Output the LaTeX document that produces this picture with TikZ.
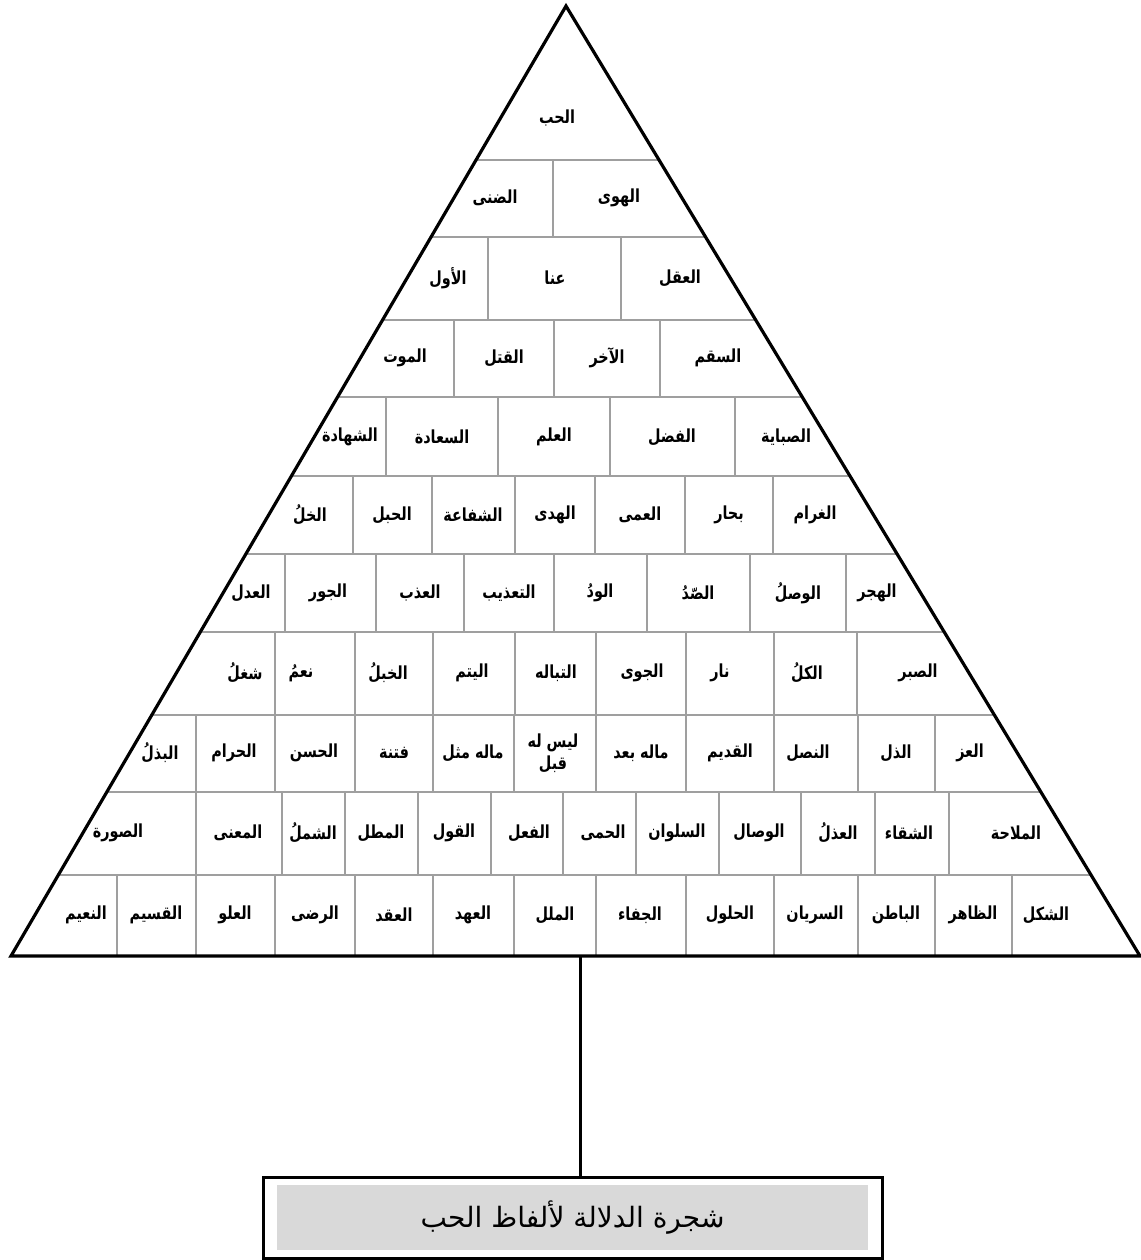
\documentclass[tikz,border=0pt]{standalone}
\usepackage{fontspec}
\usepackage{xcolor}
\usepackage{tikz}
\newfontfamily\arabicfont[Script=Arabic, FakeStretch=0.8]{DejaVu Sans}
\newfontfamily\titlefont[Script=Arabic]{DejaVu Sans}
\TeXXeTstate=1
\newcommand{\kalima}[1]{\beginR #1\endR}

\begin{document}
\begin{tikzpicture}[x=0.5pt,y=-0.5pt,
        word/.style={font=\arabicfont\bfseries\fontsize{9}{11}\selectfont, inner sep=1pt},
        cell/.style={draw=gray!75, line width=0.8pt},
        edge/.style={draw=black, line width=1.6pt, line join=miter},
        stem/.style={draw=black, line width=1.5pt},
        frame/.style={draw=black, line width=1.5pt, minimum width=309.5pt, minimum height=40.5pt, inner sep=0pt},
        band/.style={fill=gray!30, minimum width=295.5pt, minimum height=32.5pt, inner sep=0pt, font=\titlefont\fontsize{14}{16}\selectfont}]
        \useasboundingbox (0,0) rectangle (1141,1260);
        \coordinate (apex) at (566,6);
        \coordinate (bl) at (11,956);
        \coordinate (br) at (1140,956);
        \begin{scope}
        \clip (apex) -- (bl) -- (br) -- cycle;
        \draw[cell] (0,160) -- (1141,160) (0,237) -- (1141,237) (0,320) -- (1141,320) (0,397) -- (1141,397) (0,476) -- (1141,476)
                (0,554) -- (1141,554) (0,632) -- (1141,632) (0,715) -- (1141,715) (0,792) -- (1141,792) (0,875) -- (1141,875);
        \draw[cell] (553,160) -- (553,237);
        \draw[cell] (488,237) -- (488,320) (621,237) -- (621,320);
        \draw[cell] (454,320) -- (454,397) (554,320) -- (554,397) (660,320) -- (660,397);
        \draw[cell] (386,397) -- (386,476) (498,397) -- (498,476) (610,397) -- (610,476) (735,397) -- (735,476);
        \draw[cell] (353,476) -- (353,554) (432,476) -- (432,554) (515,476) -- (515,554) (595,476) -- (595,554) (685,476) -- (685,554) (773,476) -- (773,554);
        \draw[cell] (285,554) -- (285,632) (376,554) -- (376,632) (464,554) -- (464,632) (554,554) -- (554,632) (647,554) -- (647,632) (750,554) -- (750,632) (846,554) -- (846,632);
        \draw[cell] (275,632) -- (275,715) (355,632) -- (355,715) (433,632) -- (433,715) (515,632) -- (515,715) (596,632) -- (596,715) (686,632) -- (686,715) (774,632) -- (774,715) (857,632) -- (857,715);
        \draw[cell] (196,715) -- (196,792) (275,715) -- (275,792) (355,715) -- (355,792) (433,715) -- (433,792) (514,715) -- (514,792) (596,715) -- (596,792) (686,715) -- (686,792) (774,715) -- (774,792) (858,715) -- (858,792) (935,715) -- (935,792);
        \draw[cell] (196,792) -- (196,875) (282,792) -- (282,875) (345,792) -- (345,875) (418,792) -- (418,875) (491,792) -- (491,875) (563,792) -- (563,875) (636,792) -- (636,875) (719,792) -- (719,875) (801,792) -- (801,875) (875,792) -- (875,875) (949,792) -- (949,875);
        \draw[cell] (117,875) -- (117,956) (196,875) -- (196,956) (275,875) -- (275,956) (355,875) -- (355,956) (433,875) -- (433,956) (514,875) -- (514,956) (596,875) -- (596,956) (686,875) -- (686,956) (774,875) -- (774,956) (858,875) -- (858,956) (935,875) -- (935,956) (1012,875) -- (1012,956);
        \end{scope}
        \draw[edge] (apex) -- (bl) -- (br) -- cycle;

        \node[word] (w1) at (557,118) {\kalima{الحب}};

        \node[word] (w2a) at (495,198) {\kalima{الضنى}};
        \node[word] (w2b) at (619,198) {\kalima{الهوى}};

        \node[word] (w3a) at (448,278) {\kalima{الأول}};
        \node[word] (w3b) at (555,278) {\kalima{عنا}};
        \node[word] (w3c) at (680,278) {\kalima{العقل}};

        \node[word] (w4a) at (405,358) {\kalima{الموت}};
        \node[word] (w4b) at (504,358) {\kalima{القتل}};
        \node[word] (w4c) at (607,358) {\kalima{الآخر}};
        \node[word] (w4d) at (718,358) {\kalima{السقم}};

        \node[word] (w5a) at (350,437) {\kalima{الشهادة}};
        \node[word] (w5b) at (442,437) {\kalima{السعادة}};
        \node[word] (w5c) at (554,437) {\kalima{العلم}};
        \node[word] (w5d) at (672,437) {\kalima{الفضل}};
        \node[word] (w5e) at (786,437) {\kalima{الصباية}};

        \node[word] (w6a) at (310,515) {\kalima{الخلُ}};
        \node[word] (w6b) at (392,515) {\kalima{الحبل}};
        \node[word] (w6c) at (473,515) {\kalima{الشفاعة}};
        \node[word] (w6d) at (555,515) {\kalima{الهدى}};
        \node[word] (w6e) at (640,515) {\kalima{العمى}};
        \node[word] (w6f) at (729,515) {\kalima{بحار}};
        \node[word] (w6g) at (815,515) {\kalima{الغرام}};

        \node[word] (w7a) at (251,593) {\kalima{العدل}};
        \node[word] (w7b) at (328,593) {\kalima{الجور}};
        \node[word] (w7c) at (420,593) {\kalima{العذب}};
        \node[word] (w7d) at (509,593) {\kalima{التعذيب}};
        \node[word] (w7e) at (600,593) {\kalima{الودُ}};
        \node[word] (w7f) at (698,593) {\kalima{الصّدُ}};
        \node[word] (w7g) at (798,593) {\kalima{الوصلُ}};
        \node[word] (w7h) at (877,593) {\kalima{الهجر}};

        \node[word] (w8a) at (245,673) {\kalima{شغلُ}};
        \node[word] (w8b) at (301,673) {\kalima{نعمُ}};
        \node[word] (w8c) at (388,673) {\kalima{الخبلُ}};
        \node[word] (w8d) at (472,673) {\kalima{اليتم}};
        \node[word] (w8e) at (556,673) {\kalima{التباله}};
        \node[word] (w8f) at (642,673) {\kalima{الجوى}};
        \node[word] (w8g) at (720,673) {\kalima{نار}};
        \node[word] (w8h) at (807,673) {\kalima{الكلُ}};
        \node[word] (w8i) at (918,673) {\kalima{الصبر}};

        \node[word] (w9a) at (160,753) {\kalima{البذلُ}};
        \node[word] (w9b) at (234,753) {\kalima{الحرام}};
        \node[word] (w9c) at (314,753) {\kalima{الحسن}};
        \node[word] (w9d) at (394,753) {\kalima{فتنة}};
        \node[word] (w9e) at (473,753) {\kalima{ماله مثل}};
        \node[word, align=center] (w9f) at (553,753) {\kalima{ليس له}\\\kalima{قبل}};
        \node[word] (w9g) at (641,753) {\kalima{ماله بعد}};
        \node[word] (w9h) at (730,753) {\kalima{القديم}};
        \node[word] (w9i) at (808,753) {\kalima{النصل}};
        \node[word] (w9j) at (896,753) {\kalima{الذل}};
        \node[word] (w9k) at (970,753) {\kalima{العز}};

        \node[word] (w10a) at (118,833) {\kalima{الصورة}};
        \node[word] (w10b) at (238,833) {\kalima{المعنى}};
        \node[word] (w10c) at (313,833) {\kalima{الشملُ}};
        \node[word] (w10d) at (381,833) {\kalima{المطل}};
        \node[word] (w10e) at (454,833) {\kalima{القول}};
        \node[word] (w10f) at (529,833) {\kalima{الفعل}};
        \node[word] (w10g) at (603,833) {\kalima{الحمى}};
        \node[word] (w10h) at (677,833) {\kalima{السلوان}};
        \node[word] (w10i) at (759,833) {\kalima{الوصال}};
        \node[word] (w10j) at (838,833) {\kalima{العذلُ}};
        \node[word] (w10k) at (909,833) {\kalima{الشقاء}};
        \node[word] (w10l) at (1016,833) {\kalima{الملاحة}};

        \node[word] (w11a) at (86,915) {\kalima{النعيم}};
        \node[word] (w11b) at (156,915) {\kalima{القسيم}};
        \node[word] (w11c) at (235,915) {\kalima{العلو}};
        \node[word] (w11d) at (315,915) {\kalima{الرضى}};
        \node[word] (w11e) at (394,915) {\kalima{العقد}};
        \node[word] (w11f) at (473,915) {\kalima{العهد}};
        \node[word] (w11g) at (555,915) {\kalima{الملل}};
        \node[word] (w11h) at (640,915) {\kalima{الجفاء}};
        \node[word] (w11i) at (730,915) {\kalima{الحلول}};
        \node[word] (w11j) at (815,915) {\kalima{السريان}};
        \node[word] (w11k) at (896,915) {\kalima{الباطن}};
        \node[word] (w11l) at (973,915) {\kalima{الظاهر}};
        \node[word] (w11m) at (1046,915) {\kalima{الشكل}};

        \node[frame] (box) at (572.5,1217.5) {};
        \node[band] (title) at (box.center) {\kalima{شجرة الدلالة لألفاظ الحب}};
        \coordinate (foot) at (580,956);
        \draw[stem] (foot) -- (foot |- box.north);
\end{tikzpicture}
\end{document}
